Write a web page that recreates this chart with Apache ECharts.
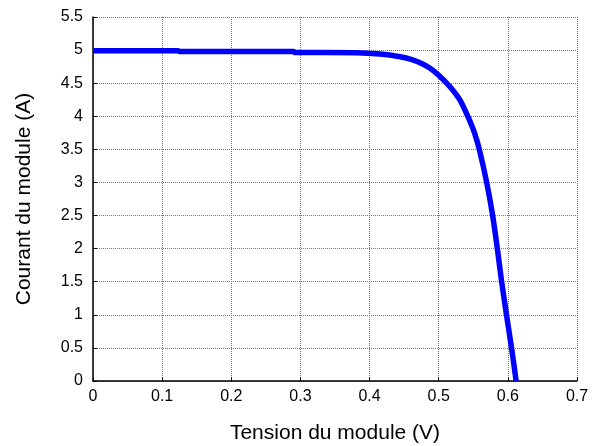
<!DOCTYPE html>
<html><head><meta charset="utf-8">
<script src="https://cdn.jsdelivr.net/npm/echarts@6/dist/echarts.min.js"></script>
<style>html,body{margin:0;padding:0;background:#fff}#c{width:601px;height:446px}</style>
</head><body><div id="c"></div>
<script>
var voltage = [0, 0.05, 0.1, 0.123, 0.125, 0.2, 0.29, 0.292, 0.38, 0.415, 0.444, 0.46, 0.473, 0.487, 0.5, 0.516, 0.531, 0.545, 0.552, 0.5587, 0.5694, 0.578, 0.5848, 0.591, 0.5983, 0.6056, 0.612];
var current = [4.99, 4.99, 4.99, 4.99, 4.977, 4.977, 4.977, 4.965, 4.96, 4.94, 4.90, 4.86, 4.81, 4.73, 4.62, 4.45, 4.24, 3.93, 3.74, 3.5, 3.0, 2.5, 2.0, 1.5, 0.98, 0.48, 0];
var xTitle = 'Tension du module (V)';
var yTitle = 'Courant du module (A)';

var pts = voltage.map(function(v, i){ return [v, current[i]]; });
var font = 'Liberation Sans, Arial, sans-serif';
var chart = echarts.init(document.getElementById('c'), null, {renderer:'canvas'});
chart.setOption({
  animation: false,
  backgroundColor: '#fff',
  grid: {left: 93, right: 24, top: 17, bottom: 65, outerBoundsMode: 'none', containLabel: false},
  xAxis: {
    type: 'value', min: 0, max: 0.7, interval: 0.1,
    name: xTitle, nameLocation: 'middle', nameGap: 42,
    nameTextStyle: {fontFamily: font, fontSize: 21, color: '#000'},
    axisLine: {show: true, onZero: false, lineStyle: {color: '#000', width: 1.5}},
    axisTick: {show: true, inside: true, length: 4, lineStyle: {color: '#000'}},
    axisLabel: {fontFamily: font, fontSize: 16, color: '#000', margin: 8,
      formatter: function(v){ return String(Math.round(v*10)/10); }},
    splitLine: {show: true, lineStyle: {color: '#777', type: [1,1], width: 1}}
  },
  yAxis: {
    type: 'value', min: 0, max: 5.5, interval: 0.5,
    name: yTitle, nameLocation: 'middle', nameGap: 58,
    nameTextStyle: {fontFamily: font, fontSize: 21, color: '#000'},
    axisLine: {show: true, onZero: false, lineStyle: {color: '#000', width: 1.5}},
    axisTick: {show: true, inside: true, length: 4, lineStyle: {color: '#000'}},
    axisLabel: {fontFamily: font, fontSize: 16, color: '#000', margin: 10,
      formatter: function(v){ return String(Math.round(v*10)/10); }},
    splitLine: {show: true, lineStyle: {color: '#777', type: [1,1], width: 1}}
  },
  series: [{
    type: 'line', data: pts, showSymbol: false, smooth: 0.25,
    lineStyle: {color: '#0000ff', width: 5.5}, clip: true
  }]
});
</script></body></html>
